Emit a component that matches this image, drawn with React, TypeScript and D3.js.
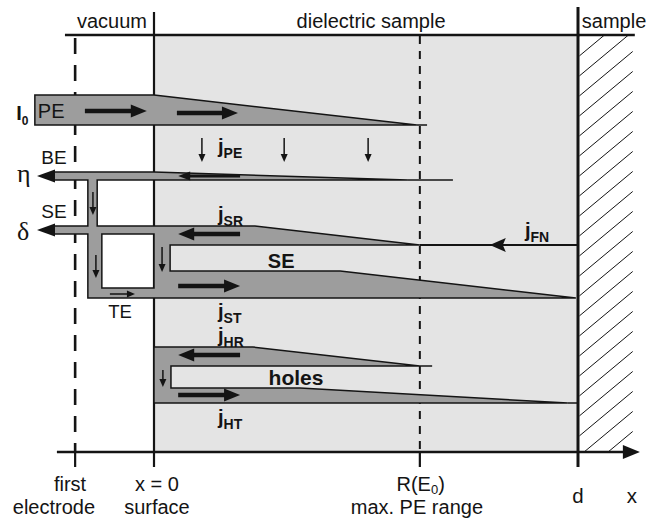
import React from 'react';
import * as d3 from 'd3';

const W = 652;
const H = 518;

// Horizontal positions are depths in % of the sample thickness d
// (0 = surface x = 0, 100 = back electrode at x = d). Vertical values are rows.
const regionLabels = ['vacuum', 'dielectric sample', 'sample'];
const regionDepth = [-9.9, 51.2, 108.5];

const boundaryDepth = [-18.6, 0, 62.7, 100];
const boundaryTop = [38, 12, 36, 7];
const boundaryDashed = [true, false, true, false];

const bottomLine1 = ['first', 'x = 0', 'R(E', ''];
const bottomLine2 = ['electrode', 'surface', 'max. PE range', ''];
const bottomDepth1 = [-19.8, 0.7, 62.9, 100];
const bottomDepth2 = [-23.6, 0.7, 62.0, 100];

// primary electron beam (depth, row)
const peBeam: [number, number][] = [[-28.1, 95], [0, 95], [62.0, 125], [-28.1, 125]];
// backscattered / secondary electron network
const seOuter: [number, number][] = [
  [-24.1, 172], [0, 172], [59.9, 180], [-13.4, 180], [-13.4, 226], [23.8, 226],
  [62.7, 245], [3.8, 245], [3.8, 271], [43.9, 271], [99.5, 298], [-15.6, 298],
  [-15.6, 234], [-24.1, 234], [-24.1, 226], [-15.6, 226], [-15.6, 180], [-24.1, 180],
];
const seHole: [number, number][] = [[-12.3, 234], [0, 234], [0, 288], [-12.3, 288]];
// holes
const holeBeam: [number, number][] = [
  [0, 347], [23.3, 347], [62.7, 366], [4.0, 366], [4.0, 388], [34.4, 388], [97.6, 403], [0, 403],
];
const extraLines: [number, number][][] = [
  [[62.0, 125], [64.4, 125]],
  [[59.9, 180], [70.5, 180]],
  [[62.7, 366], [65.6, 366]],
  [[97.6, 403], [100, 403]],
];
// jFN current line
const fnLine: [number, number][] = [[62.7, 245], [100, 245]];

// thick arrows: tail depth, tip depth, row
const thickArrows: [number, number, number][] = [
  [-16.3, -1.7, 111], [5.4, 19.8, 113],
  [20.3, 5.7, 234], [5.7, 20.3, 286],
  [20.3, 5.7, 355], [5.7, 20.3, 395],
];
const mediumArrows: [number, number, number][] = [[20.3, 5.7, 176]];
// outlet arrowheads (tip depth, row)
const outletHeads: [number, number][] = [[-27.6, 176], [-27.6, 230]];
const fnHead: [number, number] = [79.2, 245];
// small vertical arrows: depth, from row, to row
const downArrows: [number, number, number][] = [
  [11.3, 138, 162], [30.7, 138, 162], [50.5, 138, 162],
  [-14.4, 192, 215], [-13.7, 255, 278], [1.9, 247, 272], [2.1, 370, 387],
];
const teArrow: [number, number, number] = [-10.4, -4.5, 294];

// current labels: subscript, depth, baseline row
const jLabels: [string, number, number][] = [
  ['PE', 15.1, 153], ['SR', 15.1, 221], ['ST', 15.1, 318],
  ['HR', 15.1, 342], ['HT', 15.1, 424], ['FN', 87.5, 237],
];

const FONT = "'Liberation Sans', Arial, Helvetica, sans-serif";
const SERIF = "'Liberation Serif', 'Times New Roman', serif";
const BG = '#e4e4e4';
const BEAM = '#9d9d9d';
const INK = '#141414';

export default function App() {
  const x = d3.scaleLinear().domain([0, 100]).range([154, 578]);
  const y = d3.scaleLinear().domain([0, H]).range([0, H]);
  const line = d3.line<[number, number]>().x(d => x(d[0])).y(d => y(d[1]));
  const poly = (pts: [number, number][]) => (line(pts) || '') + 'Z';

  const axisY = y(452);
  const headerY = y(35);
  const left = x(-22.9);
  const axisEnd = x(114.6);

  const hatch: React.ReactNode[] = [];
  for (let k = -4; k < 26; k++) {
    const y0 = 36 + k * 20;
    hatch.push(
      <line key={k} x1={x(100.3)} y1={y0} x2={x(100.3) + 60} y2={y0 - 50} stroke={INK} strokeWidth={1} />
    );
  }

  const arrow = (tail: number, tip: number, yy: number, len: number, half: number, w: number, key: string) => {
    const x1 = x(tail);
    const x2 = x(tip);
    const s = Math.sign(x2 - x1);
    const base = x2 - s * len;
    return (
      <g key={key}>
        <line x1={x1} y1={y(yy)} x2={base + s * 2} y2={y(yy)} stroke={INK} strokeWidth={w} />
        <path d={`M${x2},${y(yy)}L${base},${y(yy) - half}L${base},${y(yy) + half}Z`} fill={INK} />
      </g>
    );
  };

  return (
    <svg width={W} height={H} style={{ position: 'absolute', left: 0, top: 0, background: '#fff' }}
      fontFamily={FONT}>
      <defs>
        <clipPath id="hatchClip">
          <rect x={x(100.3)} y={headerY} width={x(112.9) - x(100.3)} height={axisY - headerY} />
        </clipPath>
      </defs>
      {/* dielectric background */}
      <rect x={x(0)} y={headerY} width={x(100) - x(0)} height={axisY - headerY} fill={BG} />
      {/* hatched sample electrode */}
      <g clipPath="url(#hatchClip)">{hatch}</g>

      {/* boundaries */}
      {boundaryDepth.map((d, i) => (
        <g key={i}>
          <line x1={x(d)} x2={x(d)} y1={y(boundaryTop[i])} y2={axisY}
            stroke={INK}
            strokeWidth={boundaryDashed[i] ? (i === 0 ? 2.6 : 2) : i === 3 ? 3 : 2.2}
            strokeDasharray={boundaryDashed[i] ? (i === 0 ? '16 11' : '8 7') : undefined} />
          <line x1={x(d)} x2={x(d)} y1={axisY} y2={y(467)} stroke={INK} strokeWidth={i === 3 ? 3 : 2.2} />
        </g>
      ))}

      {/* beams */}
      <path d={poly(peBeam)} fill={BEAM} stroke={INK} strokeWidth={1.5} strokeLinejoin="miter" />
      <path d={poly(seOuter) + poly(seHole)} fill={BEAM} fillRule="evenodd" stroke={INK} strokeWidth={1.5} />
      <path d={poly(holeBeam)} fill={BEAM} stroke={INK} strokeWidth={1.5} />
      {extraLines.map((l, i) => (
        <path key={i} d={line(l) || ''} stroke={INK} strokeWidth={1.5} fill="none" />
      ))}
      <path d={line(fnLine) || ''} stroke={INK} strokeWidth={2} fill="none" />

      {/* arrows */}
      {thickArrows.map((a, i) => arrow(a[0], a[1], a[2], 16, 6.5, 4.5, 't' + i))}
      {mediumArrows.map((a, i) => arrow(a[0], a[1], a[2], 12, 4.5, 3, 'm' + i))}
      {outletHeads.map((h, i) => (
        <path key={'o' + i}
          d={`M${x(h[0])},${y(h[1])}L${x(h[0]) + 18},${y(h[1]) - 6.5}L${x(h[0]) + 18},${y(h[1]) + 6.5}Z`}
          fill={INK} />
      ))}
      <path d={`M${x(fnHead[0])},${y(fnHead[1])}L${x(fnHead[0]) + 16},${y(fnHead[1]) - 7}L${x(fnHead[0]) + 13},${y(fnHead[1])}L${x(fnHead[0]) + 16},${y(fnHead[1]) + 7}Z`} fill={INK} />
      {downArrows.map((a, i) => (
        <g key={'d' + i}>
          <line x1={x(a[0])} x2={x(a[0])} y1={y(a[1])} y2={y(a[2]) - 5} stroke={INK} strokeWidth={1.5} />
          <path d={`M${x(a[0])},${y(a[2])}L${x(a[0]) - 3.5},${y(a[2]) - 8}L${x(a[0]) + 3.5},${y(a[2]) - 8}Z`} fill={INK} />
        </g>
      ))}
      <g>
        <line x1={x(teArrow[0])} x2={x(teArrow[1]) - 5} y1={y(teArrow[2])} y2={y(teArrow[2])} stroke={INK} strokeWidth={1.5} />
        <path d={`M${x(teArrow[1])},${y(teArrow[2])}L${x(teArrow[1]) - 8},${y(teArrow[2]) - 3.5}L${x(teArrow[1]) - 8},${y(teArrow[2]) + 3.5}Z`} fill={INK} />
      </g>

      {/* header */}
      <line x1={x(-21)} x2={x(113.4)} y1={headerY} y2={headerY} stroke={INK} strokeWidth={2.6} />
      {regionLabels.map((t, i) => (
        <text key={t} x={x(regionDepth[i])} y={y(28)} fontSize={20} textAnchor="middle" fill={INK}>{t}</text>
      ))}

      {/* axis */}
      <line x1={left} x2={axisEnd - 12} y1={axisY} y2={axisY} stroke={INK} strokeWidth={2.6} />
      <path d={`M${axisEnd},${axisY}L${axisEnd - 17},${axisY - 7}L${axisEnd - 17},${axisY + 7}Z`} fill={INK} />

      {/* bottom labels */}
      {bottomLine1.map((t, i) => t ? (
        <text key={'b1' + i} x={x(bottomDepth1[i])} y={y(491)} fontSize={20} textAnchor="middle" fill={INK}>
          {t}{i === 2 ? <><tspan fontSize={13} dy={3}>0</tspan><tspan dy={-3}>)</tspan></> : null}
        </text>
      ) : null)}
      {bottomLine2.map((t, i) => t ? (
        <text key={'b2' + i} x={x(bottomDepth2[i])} y={y(513.5)} fontSize={20} textAnchor="middle" fill={INK}>{t}</text>
      ) : null)}
      <text x={x(100)} y={y(503)} fontSize={20.5} textAnchor="middle" fill={INK}>d</text>
      <text x={x(112.7)} y={y(503)} fontSize={20.5} textAnchor="middle" fill={INK}>x</text>

      {/* left labels */}
      <text x={x(-32.5)} y={y(120)} fontSize={20} fontWeight="bold" fill={INK}>I<tspan fontSize={12} dy={5}>0</tspan></text>
      <text x={x(-27.4)} y={y(118)} fontSize={20} fill={INK}>PE</text>
      <text x={x(-26.6)} y={y(164)} fontSize={19} fill={INK}>BE</text>
      <text x={x(-26.6)} y={y(218)} fontSize={19} fill={INK}>SE</text>
      <text x={x(-10.8)} y={y(318)} fontSize={18.5} fill={INK}>TE</text>
      <text x={x(-32.3)} y={y(182)} fontSize={26} fontFamily={SERIF} fill={INK}>η</text>
      <text x={x(-32.3)} y={y(240)} fontSize={26} fontFamily={SERIF} fill={INK}>δ</text>

      {/* current labels */}
      {jLabels.map((j, i) => (
        <text key={'j' + i} x={x(j[1])} y={y(j[2])} fontSize={20} fontWeight="bold" fill={INK}>
          j<tspan fontSize={14} dy={4.5}>{j[0]}</tspan>
        </text>
      ))}
      <text x={x(30.0)} y={y(268)} fontSize={20} fontWeight="bold" textAnchor="middle" fill={INK}>SE</text>
      <text x={x(33.5)} y={y(385)} fontSize={21} fontWeight="bold" textAnchor="middle" fill={INK}>holes</text>
    </svg>
  );
}
